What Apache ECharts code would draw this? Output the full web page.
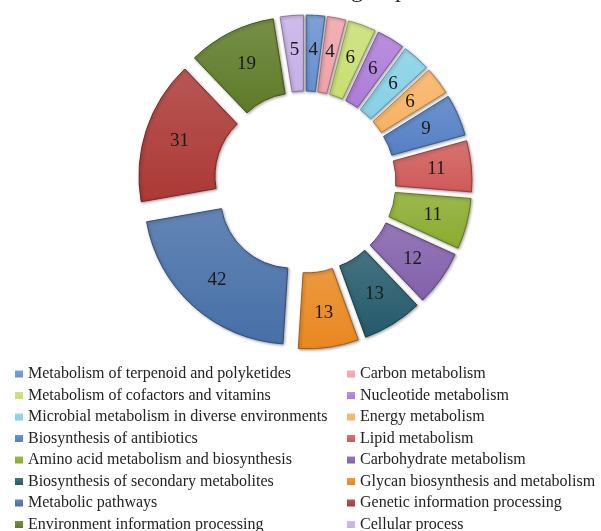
<!DOCTYPE html>
<html>
<head>
<meta charset="utf-8">
<script src="https://cdn.jsdelivr.net/npm/echarts@6/dist/echarts.min.js"></script>
<style>
  html, body { margin: 0; padding: 0; background: #fff; }
  #chart { width: 601px; height: 531px; }
</style>
</head>
<body>
<div id="chart"></div>
<script>
// KEGG subgroup counts, clockwise from 12 o'clock
const categories = [
  'Metabolism of terpenoid and polyketides',
  'Carbon metabolism',
  'Metabolism of cofactors and vitamins',
  'Nucleotide metabolism',
  'Microbial metabolism in diverse environments',
  'Energy metabolism',
  'Biosynthesis of antibiotics',
  'Lipid metabolism',
  'Amino acid metabolism and biosynthesis',
  'Carbohydrate metabolism',
  'Biosynthesis of secondary metabolites',
  'Glycan biosynthesis and metabolism',
  'Metabolic pathways',
  'Genetic information processing',
  'Environment information processing',
  'Cellular process'
];
const values = [4, 4, 6, 6, 6, 6, 9, 11, 11, 12, 13, 13, 42, 31, 19, 5];
const colors = [
  '#6690D0', '#EFA3AA', '#C9DE72', '#AE7CD8', '#86D0E6', '#F7B264',
  '#5480C4', '#CF5A58', '#8AAB2E', '#8260AB', '#245A6B', '#E9871F',
  '#4770A8', '#AC3936', '#5E7B28', '#C6B0E6'
];
const titleText = 'KEGG subgroups';

function shade(hex, f) {
  const n = parseInt(hex.slice(1), 16);
  let r = (n >> 16) & 255, g = (n >> 8) & 255, b = n & 255;
  const m = c => Math.max(0, Math.min(255, Math.round(f > 0 ? c + (255 - c) * f : c * (1 + f))));
  return 'rgb(' + m(r) + ',' + m(g) + ',' + m(b) + ')';
}

const pieData = categories.map((name, i) => ({
  name: name,
  value: values[i],
  selected: true,
  itemStyle: {
    color: {
      type: 'linear', x: 0, y: 0, x2: 0, y2: 1,
      colorStops: [
        { offset: 0, color: shade(colors[i], 0.15) },
        { offset: 1, color: colors[i] }
      ]
    },
    borderColor: shade(colors[i], -0.3),
    borderWidth: 1
  }
}));

const legendText = { fontFamily: 'Liberation Serif', fontSize: 16, color: '#222', lineHeight: 16 };
const leftNames = categories.filter((_, i) => i % 2 === 0);
const rightNames = categories.filter((_, i) => i % 2 === 1);
const legendBase = {
  orient: 'vertical', top: 366, height: 180, padding: 0,
  itemGap: 5.5, itemWidth: 8, itemHeight: 7, icon: 'rect',
  itemStyle: { borderWidth: 0 },
  selectedMode: false, textStyle: legendText
};

const chart = echarts.init(document.getElementById('chart'), null, { renderer: 'canvas' });
chart.setOption({
  animation: false,
  color: colors,
  graphic: [{
    type: 'text',
    left: 245,
    top: -21,
    style: { text: titleText, font: '24px "Liberation Serif"', fill: '#222' }
  }],
  legend: [
    Object.assign({}, legendBase, { data: leftNames, left: 15 }),
    Object.assign({}, legendBase, { data: rightNames, left: 347 })
  ],
  series: [{
    type: 'pie',
    center: [305, 182],
    radius: [72, 148],
    startAngle: 90,
    clockwise: true,
    selectedMode: 'multiple',
    selectedOffset: 19,
    avoidLabelOverlap: false,
    itemStyle: {
      shadowBlur: 3,
      shadowColor: 'rgba(0,0,0,0.35)',
      shadowOffsetX: 1,
      shadowOffsetY: 1
    },
    label: {
      show: true,
      position: 'inside',
      formatter: '{c}',
      fontFamily: 'Liberation Serif',
      fontSize: 19,
      color: '#1a1a1a'
    },
    labelLine: { show: false },
    emphasis: { disabled: true },
    data: pieData
  }]
});
</script>
</body>
</html>
